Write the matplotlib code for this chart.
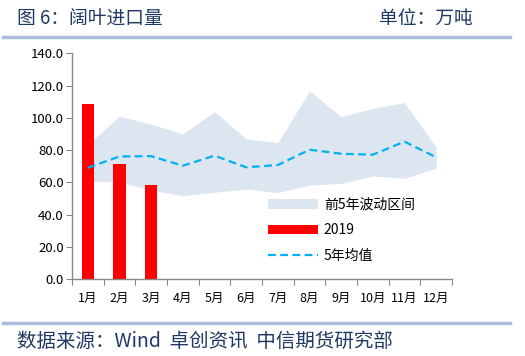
import matplotlib
matplotlib.use("Agg")
import matplotlib.pyplot as plt
from matplotlib.patches import Patch
from matplotlib.lines import Line2D
import numpy as np

plt.rcParams['font.family'] = ['Noto Sans CJK SC', 'DejaVu Sans']

months = ["1月", "2月", "3月", "4月", "5月", "6月", "7月", "8月", "9月", "10月", "11月", "12月"]
band_upper = [83.5, 101.0, 96.0, 90.0, 103.8, 87.0, 84.6, 116.6, 100.7, 105.8, 109.4, 81.7]
band_lower = [60.4, 60.3, 55.0, 51.7, 53.8, 55.8, 53.6, 58.3, 59.3, 63.9, 62.5, 68.7]
avg5 = [69.0, 76.0, 76.2, 70.3, 76.5, 69.3, 70.7, 80.2, 77.7, 77.1, 85.2, 75.5]
y2019 = [108.3, 71.2, 58.5]

navy = "#1F3864"
W, H = 525, 356
fig = plt.figure(figsize=(W / 100, H / 100), dpi=100)
ax = fig.add_axes([72 / W, 1 - 279 / H, 380 / W, (279 - 53.3) / H])

x = np.arange(len(months))
ax.fill_between(x, band_lower, band_upper, color="#DCE6F1", linewidth=0, zorder=1)
ax.bar(np.arange(len(y2019)), y2019, width=0.38, color="#FF0000", zorder=2)
ax.plot(x, avg5, color="#00B0F0", linestyle=(0, (3.5, 2)), linewidth=1.6, zorder=3)

ax.set_xlim(-0.5, 11.5)
ax.set_ylim(0, 140)
ax.set_yticks(np.arange(0, 141, 20))
ax.set_yticklabels([f"{v:.1f}" for v in np.arange(0, 141, 20)], fontsize=9.5)
ax.set_xticks(np.arange(-0.5, 12, 1))
ax.set_xticklabels([])
ax.set_xticks(x, minor=True)
ax.set_xticklabels(months, minor=True, fontsize=9)
ax.tick_params(axis='x', which='minor', length=0, pad=9)
ax.tick_params(axis='x', which='major', length=4, color="#888888", direction='out')
ax.tick_params(axis='y', length=4, color="#888888", direction='out', pad=2)
for s in ["top", "right"]:
    ax.spines[s].set_visible(False)
for s in ["left", "bottom"]:
    ax.spines[s].set_color("#888888")
    ax.spines[s].set_linewidth(1.0)

handles = [Patch(facecolor="#DCE6F1", edgecolor="none"),
           Patch(facecolor="#FF0000", edgecolor="none"),
           Line2D([0], [0], color="#00B0F0", linestyle=(0, (3.5, 2)), linewidth=1.6)]
labels = ["前5年波动区间", "2019", "5年均值"]
fig.legend(handles, labels, loc="upper left", bbox_to_anchor=(262 / W, 1 - 192 / H),
           frameon=False, fontsize=10, handlelength=3.6, handletextpad=0.45,
           labelspacing=0.85, borderaxespad=0)

fig.text(17 / W, 1 - 19 / H, "图 6：阔叶进口量", fontsize=13.5, color=navy, va="center", ha="left")
fig.text(473 / W, 1 - 19 / H, "单位：万吨", fontsize=13.5, color=navy, va="center", ha="right")
fig.text(17 / W, 1 - 341 / H, "数据来源：Wind  卓创资讯  中信期货研究部", fontsize=14, color=navy,
         va="center", ha="left")
fig.add_artist(Line2D([3 / W, 510 / W], [1 - 37 / H, 1 - 37 / H], color="#A9BCD9", linewidth=2.5))
fig.add_artist(Line2D([3 / W, 510 / W], [1 - 323 / H, 1 - 323 / H], color="#A9BCD9", linewidth=2.5))

fig.savefig("out.png", dpi=100)
